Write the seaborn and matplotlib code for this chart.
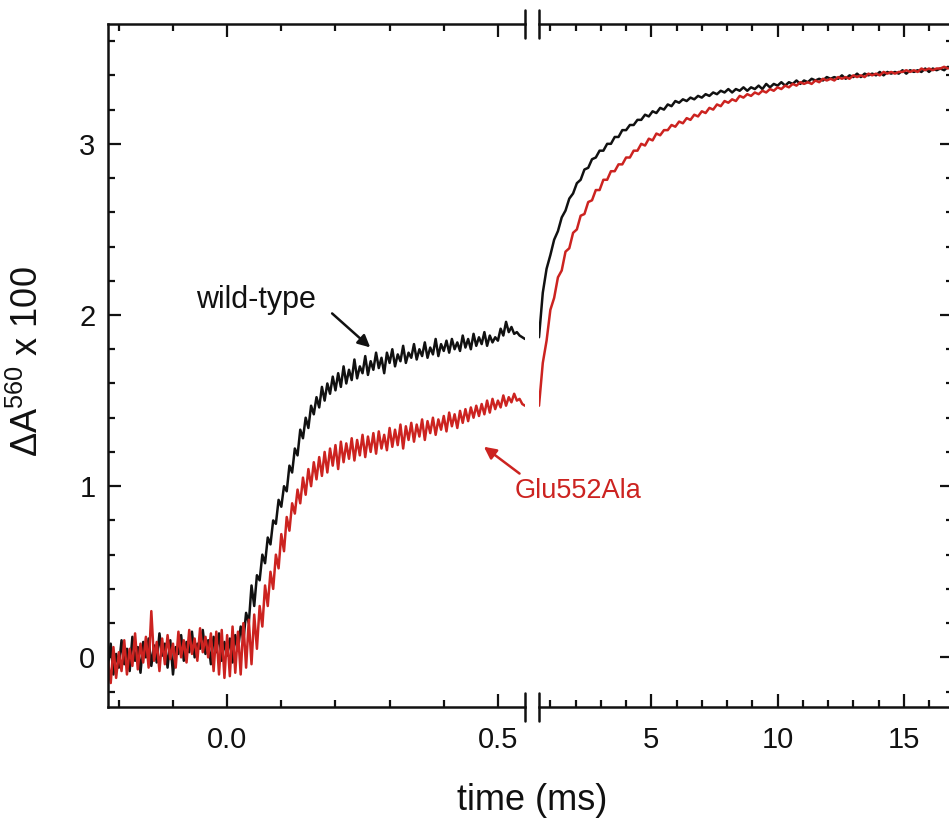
import matplotlib
matplotlib.use('Agg')
import matplotlib.pyplot as plt
import numpy as np
import pandas as pd
import seaborn as sns
from matplotlib.ticker import MultipleLocator

# fast window: -0.22 .. 0.55 ms, one reading every 5 us
FAST_START, FAST_STEP = -0.22, 0.005
WT_FAST = [
    -0.05, 0.08, -0.10, 0.02, -0.06, 0.10, -0.04, 0.05, -0.08, 0.12,
    -0.02, 0.06, -0.09, 0.09, 0.00, 0.11, -0.05, 0.07, -0.03, 0.14,
    0.01, 0.08, -0.06, 0.10, -0.10, 0.06, 0.02, 0.13, -0.02, 0.09,
    0.03, 0.15, 0.00, 0.08, 0.05, 0.16, 0.02, 0.10, -0.04, 0.12,
    0.03, 0.14, -0.02, 0.09, 0.01, 0.11, -0.03, 0.13, 0.04, 0.18,
    0.10, 0.26, 0.20, 0.42, 0.30, 0.48, 0.45, 0.60, 0.55, 0.70,
    0.66, 0.80, 0.78, 0.92, 0.88, 1.00, 0.97, 1.12, 1.08, 1.22,
    1.18, 1.33, 1.28, 1.40, 1.34, 1.47, 1.42, 1.52, 1.46, 1.58,
    1.50, 1.60, 1.54, 1.64, 1.56, 1.66, 1.58, 1.70, 1.60, 1.68,
    1.62, 1.74, 1.63, 1.70, 1.66, 1.76, 1.65, 1.73, 1.68, 1.78,
    1.69, 1.75, 1.66, 1.78, 1.72, 1.80, 1.70, 1.77, 1.73, 1.82,
    1.72, 1.78, 1.75, 1.83, 1.74, 1.80, 1.76, 1.84, 1.75, 1.81,
    1.77, 1.86, 1.76, 1.83, 1.79, 1.85, 1.78, 1.86, 1.80, 1.84,
    1.79, 1.88, 1.81, 1.86, 1.80, 1.89, 1.82, 1.87, 1.83, 1.90,
    1.82, 1.88, 1.84, 1.87, 1.85, 1.92, 1.88, 1.96, 1.90, 1.93,
    1.89, 1.90, 1.88, 1.87, 1.86,
]
MUT_FAST = [
    -0.02, -0.15, 0.06, -0.12, 0.03, -0.08, 0.10, -0.10, 0.05, -0.05,
    0.14, -0.07, 0.08, -0.03, 0.12, -0.06, 0.27, -0.02, 0.09, -0.08,
    0.11, -0.04, 0.13, -0.01, 0.08, -0.06, 0.15, 0.00, 0.10, -0.03,
    0.16, 0.02, 0.11, -0.02, 0.17, 0.03, 0.12, 0.00, 0.14, -0.08,
    0.15, -0.10, 0.16, -0.12, 0.13, -0.11, 0.18, -0.09, 0.15, -0.10,
    0.20, -0.06, 0.22, -0.04, 0.25, 0.05, 0.30, 0.18, 0.42, 0.30,
    0.50, 0.40, 0.60, 0.52, 0.72, 0.62, 0.82, 0.74, 0.90, 0.84,
    0.98, 0.90, 1.05, 0.95, 1.10, 1.00, 1.14, 1.04, 1.17, 1.06,
    1.20, 1.08, 1.22, 1.12, 1.24, 1.10, 1.26, 1.14, 1.25, 1.16,
    1.28, 1.15, 1.27, 1.18, 1.30, 1.17, 1.29, 1.20, 1.31, 1.19,
    1.32, 1.22, 1.30, 1.21, 1.34, 1.23, 1.33, 1.24, 1.36, 1.22,
    1.35, 1.27, 1.37, 1.26, 1.36, 1.29, 1.39, 1.27, 1.38, 1.31,
    1.40, 1.30, 1.39, 1.33, 1.41, 1.32, 1.43, 1.35, 1.42, 1.34,
    1.44, 1.37, 1.45, 1.38, 1.46, 1.40, 1.47, 1.41, 1.48, 1.42,
    1.50, 1.43, 1.51, 1.45, 1.50, 1.46, 1.53, 1.47, 1.52, 1.49,
    1.54, 1.50, 1.51, 1.48, 1.47,
]

# slow window: 0.55 .. 16.75 ms, one reading every 0.15 ms
SLOW_START, SLOW_STEP = 0.55, 0.15
WT_SLOW = [
    1.87, 2.13, 2.27, 2.35, 2.44, 2.49, 2.57, 2.61, 2.68, 2.71,
    2.77, 2.79, 2.85, 2.86, 2.91, 2.92, 2.96, 2.96, 3.00, 3.00,
    3.04, 3.04, 3.08, 3.08, 3.11, 3.11, 3.14, 3.14, 3.17, 3.16,
    3.19, 3.18, 3.21, 3.20, 3.23, 3.22, 3.25, 3.24, 3.26, 3.25,
    3.27, 3.26, 3.28, 3.27, 3.29, 3.28, 3.30, 3.29, 3.31, 3.30,
    3.32, 3.30, 3.32, 3.31, 3.33, 3.31, 3.33, 3.32, 3.34, 3.32,
    3.35, 3.33, 3.35, 3.34, 3.36, 3.34, 3.36, 3.35, 3.37, 3.35,
    3.37, 3.36, 3.38, 3.37, 3.38, 3.37, 3.39, 3.38, 3.39, 3.38,
    3.40, 3.38, 3.40, 3.39, 3.41, 3.39, 3.41, 3.40, 3.41, 3.40,
    3.42, 3.40, 3.42, 3.41, 3.42, 3.41, 3.43, 3.41, 3.43, 3.42,
    3.43, 3.42, 3.44, 3.42, 3.44, 3.43, 3.44, 3.43, 3.45,
]
MUT_SLOW = [
    1.47, 1.72, 1.85, 2.03, 2.10, 2.22, 2.26, 2.37, 2.39, 2.48,
    2.50, 2.58, 2.59, 2.66, 2.67, 2.73, 2.73, 2.79, 2.79, 2.84,
    2.84, 2.88, 2.88, 2.92, 2.92, 2.96, 2.96, 3.00, 2.99, 3.03,
    3.02, 3.06, 3.05, 3.08, 3.08, 3.11, 3.10, 3.13, 3.12, 3.15,
    3.14, 3.17, 3.16, 3.19, 3.18, 3.21, 3.20, 3.23, 3.22, 3.25,
    3.24, 3.26, 3.25, 3.28, 3.27, 3.29, 3.28, 3.30, 3.29, 3.31,
    3.30, 3.32, 3.31, 3.33, 3.32, 3.34, 3.33, 3.35, 3.34, 3.36,
    3.35, 3.36, 3.35, 3.37, 3.36, 3.38, 3.37, 3.38, 3.37, 3.39,
    3.38, 3.39, 3.38, 3.40, 3.39, 3.40, 3.39, 3.41, 3.40, 3.41,
    3.40, 3.42, 3.41, 3.42, 3.41, 3.42, 3.42, 3.43, 3.42, 3.43,
    3.42, 3.44, 3.43, 3.44, 3.43, 3.44, 3.44, 3.45, 3.44,
]

VARIANTS = ['wild-type', 'Glu552Ala']
COLORS = {'wild-type': '#111111', 'Glu552Ala': '#cc2320'}
INK = '#111111'


def make_frame(start, step, wt, mut):
    t = start + step * np.arange(len(wt))
    a = pd.DataFrame({'time': t, 'dA': wt, 'variant': VARIANTS[0]})
    b = pd.DataFrame({'time': t, 'dA': mut, 'variant': VARIANTS[1]})
    return pd.concat([a, b], ignore_index=True)


df_fast = make_frame(FAST_START, FAST_STEP, WT_FAST, MUT_FAST)
df_slow = make_frame(SLOW_START, SLOW_STEP, WT_SLOW, MUT_SLOW)

sns.set_theme(style='ticks')
plt.rcParams['font.family'] = ['Liberation Sans', 'DejaVu Sans']
plt.rcParams['mathtext.fontset'] = 'custom'
plt.rcParams['mathtext.rm'] = 'Liberation Sans'
plt.rcParams['mathtext.it'] = 'Liberation Sans:italic'
plt.rcParams['text.color'] = INK
plt.rcParams['xtick.labelcolor'] = INK
plt.rcParams['ytick.labelcolor'] = INK

W, H = 949, 821
fig = plt.figure(figsize=(W / 100, H / 100), dpi=100)
bottom, top = 707, 24
ax1 = fig.add_axes([108 / W, 1 - bottom / H, (525 - 108) / W, (bottom - top) / H])
ax2 = fig.add_axes([539 / W, 1 - bottom / H, (953 - 539) / W, (bottom - top) / H])

for ax, df in [(ax1, df_fast), (ax2, df_slow)]:
    sns.lineplot(data=df, x='time', y='dA', hue='variant', hue_order=VARIANTS,
                 palette=COLORS, estimator=None, sort=False, legend=False,
                 linewidth=1.8, ax=ax)
    ax.set_ylim(-0.29, 3.70)
    ax.yaxis.set_major_locator(MultipleLocator(1))
    ax.yaxis.set_minor_locator(MultipleLocator(0.2))
    ax.set_xlabel('')
    ax.set_ylabel('')
    ax.patch.set_visible(False)
    for s in ax.spines.values():
        s.set_linewidth(1.8)
        s.set_color(INK)
    ax.tick_params(which='both', direction='in', width=1.6, top=True,
                   labelsize=21, color=INK)
    ax.tick_params(which='major', length=9.5)
    ax.tick_params(which='minor', length=5)
    ax.tick_params(axis='x', which='major', pad=14)
    ax.tick_params(axis='y', which='major', pad=9)

ax1.set_xlim(-0.22, 0.55)
ax1.xaxis.set_major_locator(MultipleLocator(0.5))
ax1.xaxis.set_minor_locator(MultipleLocator(0.1))
ax1.xaxis.set_major_formatter(matplotlib.ticker.FormatStrFormatter('%.1f'))
ax1.spines['right'].set_visible(False)
ax1.tick_params(axis='y', which='both', right=False)

ax2.set_xlim(0.55, 16.95)
ax2.xaxis.set_major_locator(MultipleLocator(5))
ax2.xaxis.set_minor_locator(MultipleLocator(1))
ax2.spines['left'].set_visible(False)
ax2.spines['right'].set_visible(False)
ax2.tick_params(axis='y', which='both', left=False, right=True,
                labelleft=False, labelright=False)

# axis break marks
for ax, xb in [(ax1, 1.0), (ax2, 0.0)]:
    for yb in (0.0, 1.0):
        ax.plot([xb, xb], [yb - 0.02, yb + 0.02], transform=ax.transAxes,
                color=INK, lw=1.8, clip_on=False)

ax1.text(0.054, 2.09, 'wild-type', fontsize=22, ha='center', va='center')
ax1.annotate('', xy=(0.268, 1.80), xytext=(0.19, 2.02),
             arrowprops=dict(arrowstyle='-|>', color=INK, lw=1.8,
                             mutation_scale=18))
ax1.text(0.531, 0.97, 'Glu552Ala', fontsize=19.5, ha='left', va='center',
         color=COLORS['Glu552Ala'], clip_on=False, zorder=10)
ax1.annotate('', xy=(0.47, 1.24), xytext=(0.544, 1.064),
             arrowprops=dict(arrowstyle='-|>', color=COLORS['Glu552Ala'],
                             lw=1.8, mutation_scale=18))

fig.text(532 / W, 1 - 800 / H, 'time (ms)', fontsize=26, ha='center', va='center')
fig.text(28 / W, 1 - 362 / H, 'ΔA$^{\\mathrm{560}}$ x 100', fontsize=26,
         rotation=90, ha='center', va='center')

fig.savefig('out.png', dpi=100, facecolor='white')
